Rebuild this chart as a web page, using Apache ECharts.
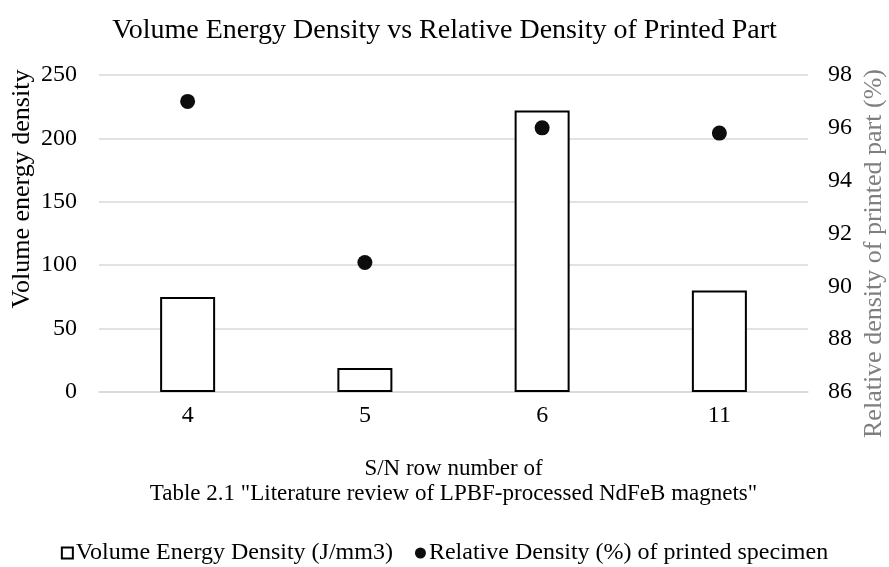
<!DOCTYPE html>
<html>
<head>
<meta charset="utf-8">
<script src="https://cdn.jsdelivr.net/npm/echarts@6/dist/echarts.min.js"></script>
<style>html,body{margin:0;padding:0;background:#fff}#c{width:889px;height:567px}</style>
</head>
<body>
<div id="c"></div>
<script>
const categories = ['4', '5', '6', '11'];
const volumeEnergyDensity = [75, 19, 222, 80];
const relativeDensity = [97.0, 90.9, 96.0, 95.8];
const leftTicks = {min: 0, max: 250, interval: 50};
const rightTicks = {min: 86, max: 98, interval: 2};

const FONT = '"Liberation Serif", "Times New Roman", serif';
const chart = echarts.init(document.getElementById('c'));
chart.setOption({
  backgroundColor: '#fff',
  textStyle: {fontFamily: FONT},
  title: {
    text: 'Volume Energy Density vs Relative Density of Printed Part',
    left: 'center', top: 12,
    textStyle: {fontFamily: FONT, fontSize: 28, fontWeight: 'normal', color: '#000'}
  },
  grid: {left: 99, right: 81, top: 75, bottom: 175, containLabel: false, outerBoundsMode: 'none'},
  legend: {
    top: 536, left: 'center', itemWidth: 11, itemHeight: 11, itemGap: 22,
    textStyle: {fontFamily: FONT, fontSize: 24, color: '#000', padding: [0, 0, 0, -2]},
    data: [
      {name: 'Volume Energy Density (J/mm3)', icon: 'rect'},
      {name: 'Relative Density (%) of printed specimen', icon: 'circle', itemStyle: {borderWidth: 0}}
    ]
  },
  xAxis: {
    type: 'category', data: categories,
    name: 'S/N row number of\nTable 2.1 "Literature review of LPBF-processed NdFeB magnets"',
    nameLocation: 'middle', nameGap: 64,
    nameTextStyle: {fontFamily: FONT, fontSize: 23, color: '#000', lineHeight: 25},
    axisLine: {show: true, lineStyle: {color: '#d9d9d9', width: 1.5}},
    axisTick: {show: false},
    axisLabel: {fontFamily: FONT, fontSize: 24, color: '#000', margin: 12}
  },
  yAxis: [
    {
      type: 'value', min: leftTicks.min, max: leftTicks.max, interval: leftTicks.interval,
      name: 'Volume energy density', nameLocation: 'middle', nameGap: 64, nameRotate: 90,
      nameMoveOverlap: false,
      nameTextStyle: {fontFamily: FONT, fontSize: 26, color: '#000', padding: [0, 0, 0, 89]},
      axisLine: {show: false}, axisTick: {show: false},
      axisLabel: {fontFamily: FONT, fontSize: 24, color: '#000', margin: 22},
      splitLine: {lineStyle: {color: '#d9d9d9', width: 1.5}}
    },
    {
      type: 'value', min: rightTicks.min, max: rightTicks.max, interval: rightTicks.interval,
      name: 'Relative density of printed part (%)', nameLocation: 'middle', nameGap: 53, nameRotate: 90,
      nameMoveOverlap: false,
      nameTextStyle: {fontFamily: FONT, fontSize: 26, color: '#7f7f7f', padding: [0, 40, 0, 0]},
      axisLine: {show: false}, axisTick: {show: false},
      axisLabel: {fontFamily: FONT, fontSize: 24, color: '#000', margin: 20},
      splitLine: {show: false}
    }
  ],
  series: [
    {
      name: 'Volume Energy Density (J/mm3)', type: 'bar', yAxisIndex: 0,
      data: volumeEnergyDensity, barWidth: 55,
      itemStyle: {color: '#fff', borderColor: '#000', borderWidth: 2}
    },
    {
      name: 'Relative Density (%) of printed specimen', type: 'scatter', yAxisIndex: 1,
      data: relativeDensity, symbol: 'circle', symbolSize: 15,
      itemStyle: {color: '#0d0d0d', opacity: 1}
    }
  ]
});
</script>
</body>
</html>
